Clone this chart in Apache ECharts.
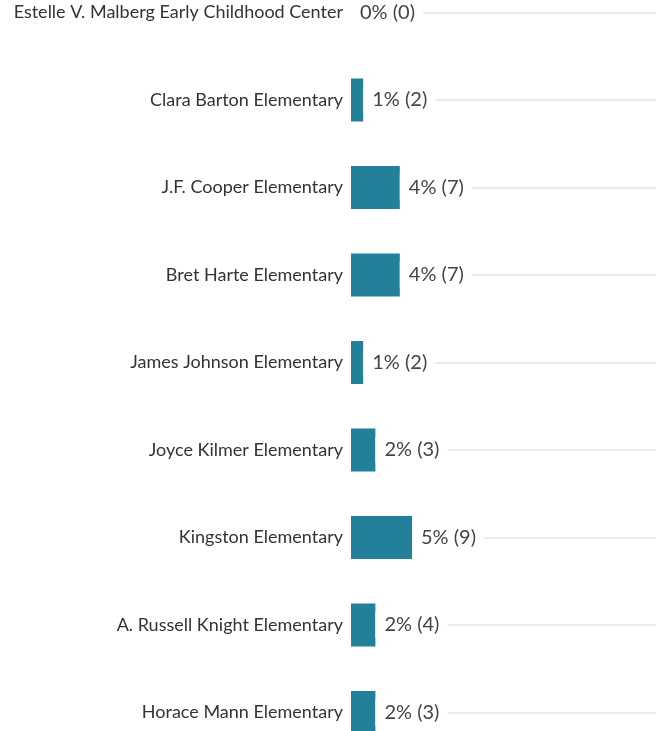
<!DOCTYPE html>
<html>
<head>
<meta charset="utf-8">
<title>Schools</title>
<script src="https://cdn.jsdelivr.net/npm/echarts@6/dist/echarts.min.js"></script>
<style>
  html, body { margin: 0; padding: 0; background: #fff; }
  #chart { width: 658px; height: 731px; }
</style>
</head>
<body>
<div id="chart"></div>
<script>
var schools = [
  'Estelle V. Malberg Early Childhood Center',
  'Clara Barton Elementary',
  'J.F. Cooper Elementary',
  'Bret Harte Elementary',
  'James Johnson Elementary',
  'Joyce Kilmer Elementary',
  'Kingston Elementary',
  'A. Russell Knight Elementary',
  'Horace Mann Elementary'
];
var percents = [0, 1, 4, 4, 1, 2, 5, 2, 2];
var counts = [0, 2, 7, 7, 2, 3, 9, 4, 3];

var chart = echarts.init(document.getElementById('chart'));
var option = {
  animation: false,
  grid: { left: 351, right: 2, top: 12.5, bottom: 18.5 },
  xAxis: {
    type: 'value',
    min: 0,
    max: 25,
    show: false
  },
  yAxis: {
    type: 'category',
    data: schools,
    inverse: true,
    boundaryGap: false,
    axisLine: { show: false },
    axisTick: { show: false },
    axisLabel: {
      margin: 8,
      color: '#333',
      fontFamily: 'Lato',
      fontSize: 18
    },
    splitLine: {
      show: true,
      lineStyle: { color: '#e4e4e4', width: 1.5 }
    }
  },
  series: [{
    type: 'bar',
    data: percents,
    barWidth: 43,
    clip: false,
    itemStyle: { color: '#22809a' },
    label: {
      show: true,
      position: 'right',
      distance: 0,
      padding: [3, 8, 3, 9],
      backgroundColor: '#fff',
      color: '#444',
      fontFamily: 'Lato',
      fontSize: 20,
      formatter: function (p) {
        return p.value + '% (' + counts[p.dataIndex] + ')';
      }
    }
  }]
};
chart.setOption(option);
window.onresize = function () {
  chart.resize();
};
</script>
</body>
</html>
